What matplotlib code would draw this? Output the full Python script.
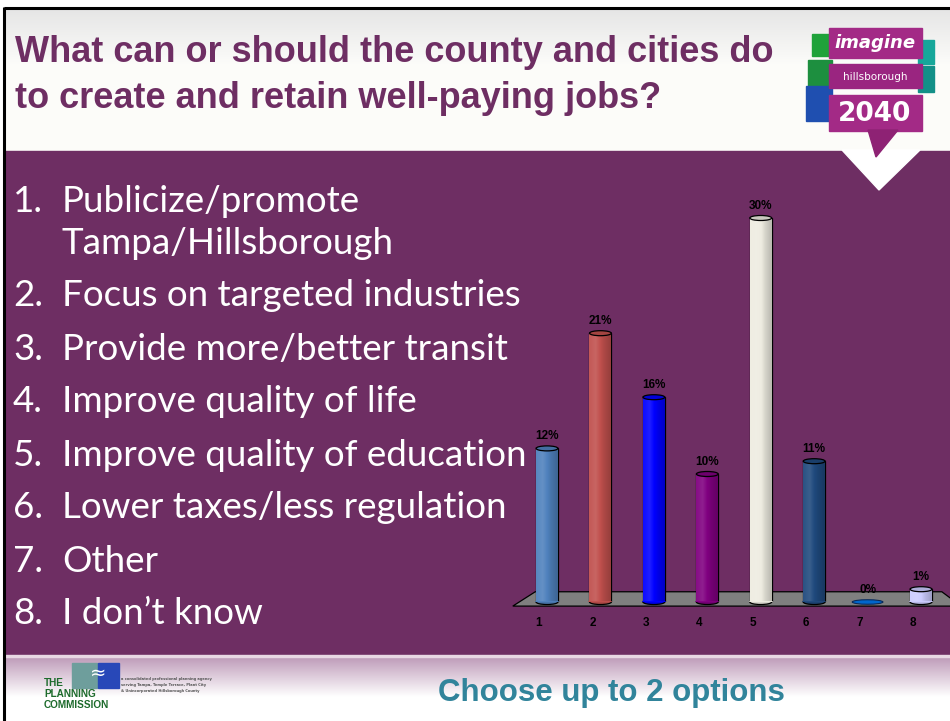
import numpy as np
import matplotlib
matplotlib.use("Agg")
import matplotlib.pyplot as plt
from matplotlib.patches import Rectangle, Polygon, Ellipse

# Survey results
categories = ["1", "2", "3", "4", "5", "6", "7", "8"]
values = [12, 21, 16, 10, 30, 11, 0, 1]
bar_colors = ["#4F81BD", "#C0504D", "#0000FF", "#800080",
              "#EEECE1", "#1F497D", "#0066CC", "#CCCCFF"]
options = [
    ("1.", ["Publicize/promote", "Tampa/Hillsborough"]),
    ("2.", ["Focus on targeted industries"]),
    ("3.", ["Provide more/better transit"]),
    ("4.", ["Improve quality of life"]),
    ("5.", ["Improve quality of education"]),
    ("6.", ["Lower taxes/less regulation"]),
    ("7.", ["Other"]),
    ("8.", ["I don\u2019t know"]),
]
title_lines = ["What can or should the county and cities do",
               "to create and retain well-paying jobs?"]
footer_note = "Choose up to 2 options"

W, H = 950, 721
PURPLE = "#6E2E63"

fig = plt.figure(figsize=(W / 100, H / 100), dpi=100)
fig.patch.set_facecolor("white")

# ---- slide background in pixel coordinates ----
bg = fig.add_axes([0, 0, 1, 1])
bg.set_xlim(0, W)
bg.set_ylim(H, 0)
bg.axis("off")

# header gradient
hdr = np.linspace(0, 1, 64)[:, None]
c_top = np.array([0.90, 0.90, 0.90])
c_bot = np.array([0.99, 0.99, 0.98])
hdr_img = c_top + (c_bot - c_top) * np.clip(hdr * 2.5, 0, 1)[..., None]
hdr_img = np.repeat(hdr_img, 2, axis=1)
bg.imshow(hdr_img, extent=(4, W, 151, 8), aspect="auto", zorder=0)

# purple band
bg.add_patch(Rectangle((4, 151), W, 505, color=PURPLE, zorder=1))

# footer gradient
ftr = np.linspace(0, 1, 64)
f_top = np.array([0.74, 0.60, 0.72])
f_bot = np.array([1.0, 1.0, 1.0])
ftr_img = f_top + (f_bot - f_top) * np.clip(ftr * 1.6, 0, 1)[:, None]
ftr_img = np.repeat(ftr_img[:, None, :], 2, axis=1)
bg.imshow(ftr_img, extent=(4, W, H, 656), aspect="auto", zorder=0)
bg.add_patch(Rectangle((4, 655), W, 2, color="#E8D8E4", zorder=1))

# frame lines
bg.plot([4, W], [7.5, 7.5], color="black", lw=2.2, zorder=5, solid_capstyle="butt")
bg.plot([4, 4], [7, H], color="black", lw=2.2, zorder=5, solid_capstyle="butt")

# title
for i, line in enumerate(title_lines):
    bg.text(15, 53 + i * 45, line, color="#6E2E63", fontsize=26,
            fontweight="bold", family="Liberation Sans", va="center", ha="left", zorder=6)

# pointer triangle under the logo
bg.add_patch(Polygon([(842, 150), (920, 150), (879, 190)], closed=True,
                     color="white", zorder=2))

# "imagine hillsborough 2040" badge
bg.add_patch(Rectangle((812, 34), 22, 22, color="#1FA23A", zorder=3))
bg.add_patch(Rectangle((808, 60), 24, 26, color="#1D8F3F", zorder=3))
bg.add_patch(Rectangle((806, 86), 26, 35, color="#1F4FB0", zorder=3))
bg.add_patch(Rectangle((918, 40), 16, 24, color="#16A79A", zorder=3))
bg.add_patch(Rectangle((918, 66), 16, 26, color="#139088", zorder=3))
bg.add_patch(Rectangle((829, 28), 93, 30, color="#A32A86", zorder=4))
bg.add_patch(Rectangle((829, 64), 93, 24, color="#9A2580", zorder=4))
bg.add_patch(Rectangle((829, 95), 93, 36, color="#A32A86", zorder=4))
bg.add_patch(Polygon([(868, 130), (898, 130), (876, 157)], closed=True,
                     color="#8E2274", zorder=4))
bg.text(875, 43, "imagine", color="white", fontsize=13, fontweight="bold",
        fontstyle="italic", family="DejaVu Sans", ha="center", va="center", zorder=5)
bg.text(875, 77, "hillsborough", color="white", fontsize=7.5, family="DejaVu Sans",
        ha="center", va="center", zorder=5)
bg.text(875, 114, "2040", color="white", fontsize=19, fontweight="bold",
        family="DejaVu Sans", ha="center", va="center", zorder=5)

# option list
y = 201
for num, lines in options:
    bg.text(13, y, num, color="white", fontsize=26.5, family="Lato",
            va="center", ha="left", zorder=6)
    for j, ln in enumerate(lines):
        bg.text(62, y + j * 42, ln, color="white", fontsize=26.5, family="Lato",
                va="center", ha="left", zorder=6)
    y += 42 * (len(lines) - 1) + 53

# footer note
bg.text(611, 693, footer_note, color="#31849B", fontsize=22.5, fontweight="bold",
        family="Liberation Sans", ha="center", va="center", zorder=6)

# planning commission mark
bg.add_patch(Rectangle((72, 663), 25, 25, color="#6E9E9C", zorder=3))
bg.add_patch(Rectangle((98, 663), 21, 25, color="#2848B8", zorder=3))
bg.text(98, 664, "\u2248", color="white", fontsize=14, ha="center", va="top", zorder=4)
for k, word in enumerate(["THE", "PLANNING", "COMMISSION"]):
    bg.text(44, 683 + k * 11, word, color="#1D6B2C", fontsize=7.2, fontweight="bold",
            family="Liberation Sans", ha="left", va="center", zorder=5)
for k, ln in enumerate(["a consolidated professional planning agency",
                        "serving Tampa, Temple Terrace, Plant City",
                        "& Unincorporated Hillsborough County"]):
    bg.text(121, 679 + k * 6, ln, color="#555555", fontsize=2.6,
            fontweight="bold", ha="left", va="center", zorder=5)

# ---- bar chart ----
px_per_cat = 53.43
px_per_pct = 12.8
left_px = 547 - 0.5 * px_per_cat
base_px = 602
ax = fig.add_axes([left_px / W, (H - base_px) / H,
                   8 * px_per_cat / W, 35 * px_per_pct / H])
ax.set_xlim(0.5, 8.5)
ax.set_ylim(0, 35)
ax.axis("off")

x = np.arange(1, len(categories) + 1)
bw = 0.41
eh = 5 / px_per_pct  # ellipse height in data units

# floor
ax.add_patch(Polygon([(0.36, -0.32), (0.78, 0.8), (8.39, 0.8), (8.75, -0.32)],
                     closed=True, facecolor="#7F7F7F", edgecolor="black",
                     lw=0.9, zorder=1, clip_on=False))

def shade(c, f):
    c = np.array(matplotlib.colors.to_rgb(c))
    if f >= 0:
        return c + (1 - c) * f
    return c * (1 + f)

bars = ax.bar(x, values, width=bw, color=bar_colors, edgecolor="black",
              linewidth=0.9, zorder=3)
for xi, v, c, b in zip(x, values, bar_colors, bars):
    if v > 0:
        # cylinder shading across the bar
        t = np.linspace(0, 1, 40)
        prof = np.interp(t, [0, 0.3, 0.7, 1], [0.05, 0.12, -0.1, -0.22])
        img = np.array([shade(c, f) for f in prof])[None, :, :]
        im = ax.imshow(img, extent=(xi - bw / 2, xi + bw / 2, 0, v),
                       aspect="auto", zorder=3.5)
        im.set_clip_path(b)
        ax.add_patch(Ellipse((xi, 0), bw, eh, facecolor=shade(c, -0.1),
                             edgecolor="black", lw=0.9, zorder=2.5, clip_on=False))
        ax.add_patch(Ellipse((xi, v), bw, eh, facecolor=shade(c, -0.15),
                             edgecolor="black", lw=0.9, zorder=4))
        ax.plot([xi - bw / 2, xi + bw / 2], [0, 0], color=shade(c, 0.0), lw=1.2, zorder=3.6)
    else:
        ax.add_patch(Ellipse((xi, 0), bw * 1.4, eh * 0.9, facecolor=c,
                             edgecolor="#0A2A5A", lw=0.8, zorder=4, clip_on=False))
    ax.text(xi, v + 0.95, f"{v}%", ha="center", va="center", fontsize=8.5,
            fontweight="bold", color="black", family="Liberation Sans", zorder=5)

for xi, lab in zip(x, categories):
    ax.text(xi - 0.15, -1.65, lab, ha="center", va="center", fontsize=8.5,
            fontweight="bold", color="black", family="Liberation Sans", clip_on=False)

fig.savefig("out.png", dpi=100)
